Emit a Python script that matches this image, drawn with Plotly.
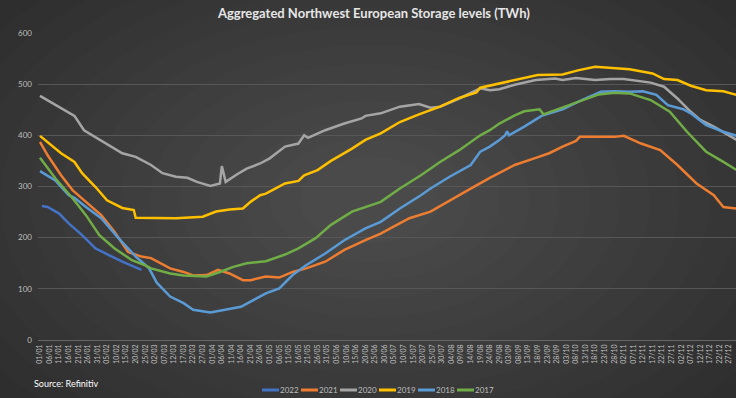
import pandas as pd
import plotly.graph_objects as go

# ---------------- data (day-of-year offsets from 01/01, values in TWh) ----------------
days_2022 = [1, 4, 10, 15, 22, 29, 36, 43, 53]
vals_2022 = [262, 260, 247, 228, 205, 179, 166, 153, 137]

days_2021 = [0, 4, 11, 17, 24, 32, 39, 46, 53, 58, 68, 75, 80, 87, 93, 99, 106, 110, 118, 125,
             132, 139, 149, 159, 170, 178, 183, 193, 204, 214, 225, 235, 248, 259, 266, 273,
             280, 282, 290, 300, 305, 314, 324, 333, 343, 352, 357, 364]
vals_2021 = [387, 361, 322, 293, 270, 244, 211, 172, 163, 160, 140, 133, 126, 127, 137, 130, 117, 117, 124, 122,
             133, 140, 153, 176, 195, 208, 218, 238, 251, 273, 296, 317, 342, 356, 365, 378,
             389, 397, 397, 397, 399, 384, 371, 342, 306, 283, 260, 257]

days_2020 = [0, 18, 23, 30, 43, 50, 55, 58, 64, 71, 77, 82, 89, 94, 95, 97, 103, 108, 115, 120,
             128, 135, 138, 140, 149, 159, 168, 170, 178, 188, 198, 204, 209, 219, 230, 235, 240,
             248, 259, 269, 273, 280, 290, 298, 305, 319, 326, 333, 340, 345, 352, 364]
vals_2020 = [477, 438, 410, 394, 365, 358, 348, 342, 326, 319, 317, 309, 301, 306, 340, 309, 324, 335, 345, 355,
             378, 384, 400, 395, 410, 423, 433, 438, 443, 456, 461, 454, 456, 472, 492, 488, 490,
             499, 508, 511, 508, 512, 508, 510, 510, 503, 495, 472, 446, 430, 417, 391]

days_2019 = [0, 4, 11, 18, 22, 29, 35, 43, 49, 50, 60, 71, 85, 92, 99, 106, 110, 115, 118, 128,
             135, 138, 145, 152, 163, 170, 178, 188, 198, 209, 219, 228, 230, 240, 248, 260, 273,
             281, 290, 300, 308, 320, 326, 333, 340, 348, 357, 364]
vals_2019 = [399, 387, 365, 348, 326, 299, 273, 258, 254, 239, 239, 238, 241, 251, 255, 257, 270, 283, 286, 306,
             311, 322, 332, 350, 374, 391, 404, 426, 441, 456, 473, 484, 493, 501, 508, 518, 519,
             527, 534, 531, 529, 521, 510, 508, 497, 488, 486, 479]

days_2018 = [0, 8, 15, 18, 24, 32, 41, 50, 54, 57, 61, 68, 75, 80, 89, 96, 105, 110, 118, 125,
             132, 139, 149, 159, 170, 178, 188, 199, 204, 214, 225, 230, 235, 240, 243, 244, 245,
             253, 262, 273, 283, 293, 300, 308, 315, 322, 328, 336, 340, 348, 357, 364]
vals_2018 = [330, 312, 283, 278, 260, 238, 199, 163, 150, 140, 112, 85, 72, 59, 54, 59, 65, 75, 91, 101,
             127, 146, 169, 195, 218, 231, 257, 283, 296, 319, 342, 368, 378, 391, 400, 408, 400,
             417, 438, 451, 469, 485, 486, 485, 486, 479, 459, 451, 443, 420, 407, 399]

days_2017 = [0, 8, 17, 24, 31, 39, 48, 55, 58, 68, 75, 87, 94, 101, 108, 115, 118, 128, 135, 144,
             152, 163, 170, 178, 188, 199, 209, 219, 230, 235, 240, 248, 253, 261, 263, 273, 281,
             292, 300, 308, 319, 329, 338, 348, 357, 364]
vals_2017 = [356, 316, 277, 244, 205, 179, 156, 146, 140, 130, 126, 124, 133, 143, 150, 153, 154, 167, 179, 199,
             225, 251, 260, 270, 296, 322, 348, 371, 400, 410, 423, 439, 447, 451, 441, 454, 465,
             480, 483, 482, 469, 446, 407, 368, 348, 332]

series_names = ["2022", "2021", "2020", "2019", "2018", "2017"]
series_days = [days_2022, days_2021, days_2020, days_2019, days_2018, days_2017]
series_vals = [vals_2022, vals_2021, vals_2020, vals_2019, vals_2018, vals_2017]
series_colors = ["#4472C4", "#ED7D31", "#A5A5A5", "#FFC000", "#5B9BD5", "#70AD47"]

y_ticks = [0, 100, 200, 300, 400, 500, 600]
title_text = "Aggregated Northwest European Storage levels (TWh)"
source_text = "Source: Refinitiv"

BASE = pd.Timestamp("2021-01-01")

# ---------------- figure ----------------
W, H = 736, 398
ML, MR, MT, MB = 38, 0, 33, 58
PW, PH = W - ML - MR, H - MT - MB


def px2paper_x(px):
    return (px - ML) / PW


def px2paper_y(py):
    return (H - MB - py) / PH


fig = go.Figure()
for name, d, v, c in zip(series_names, series_days, series_vals, series_colors):
    x = [BASE + pd.Timedelta(days=int(k)) for k in d]
    fig.add_trace(go.Scatter(x=x, y=v, name=name, mode="lines", showlegend=False,
                             line=dict(color=c, width=2.5), hoverinfo="skip"))

# soft radial background glow
shapes = []
cx, cy = 370, 200
n = 16
for i in range(n):
    rx = 520 - i * 30
    ry = rx * 0.62
    shapes.append(dict(type="circle", xref="paper", yref="paper", layer="below",
                       x0=px2paper_x(cx - rx), x1=px2paper_x(cx + rx),
                       y0=px2paper_y(cy + ry), y1=px2paper_y(cy - ry),
                       fillcolor="rgba(255,255,255,0.011)", line=dict(width=0)))

# compact legend (Excel style): short line sample + label
annotations = [dict(text=source_text, xref="paper", yref="paper",
                    x=px2paper_x(32), y=px2paper_y(383), xanchor="left", yanchor="middle",
                    showarrow=False, font=dict(size=9, color="#ffffff"))]
leg_x0, leg_step, leg_y = 262, 39, 390
for i, (name, c) in enumerate(zip(series_names, series_colors)):
    lx = leg_x0 + i * leg_step
    shapes.append(dict(type="line", xref="paper", yref="paper", layer="above",
                       x0=px2paper_x(lx), x1=px2paper_x(lx + 17),
                       y0=px2paper_y(leg_y), y1=px2paper_y(leg_y),
                       line=dict(color=c, width=3)))
    annotations.append(dict(text=name, xref="paper", yref="paper",
                            x=px2paper_x(lx + 17), y=px2paper_y(leg_y),
                            xanchor="left", yanchor="middle", showarrow=False, borderpad=0,
                            font=dict(size=8, color="#bfbfbf")))

fig.update_layout(
    width=W, height=H,
    margin=dict(l=ML, r=MR, t=MT, b=MB, autoexpand=False),
    paper_bgcolor="#2a2a2a",
    plot_bgcolor="rgba(0,0,0,0)",
    shapes=shapes,
    annotations=annotations,
    font=dict(family="Lato, Open Sans, sans-serif", color="#bfbfbf"),
    title=dict(text="<b>" + title_text + "</b>", x=0.508, xanchor="center",
               y=1 - 13 / H, yanchor="middle", yref="container",
               font=dict(size=13, color="#e6e6e6", family="Lato, sans-serif")),
    showlegend=False,
    xaxis=dict(type="date",
               range=[BASE - pd.Timedelta(hours=25), BASE + pd.Timedelta(days=363.6)],
               tick0=BASE, dtick=5 * 86400000, tickformat="%d/%m",
               tickangle=-90, tickfont=dict(size=7, color="#bfbfbf"),
               showgrid=False, zeroline=False, showline=False, ticks="",
               ticklabelstandoff=2, automargin=False),
    yaxis=dict(range=[0, 600], tickvals=y_ticks, tickfont=dict(size=8, color="#bfbfbf"),
               showgrid=True, gridcolor="#575757", gridwidth=1,
               zeroline=True, zerolinecolor="#666666", zerolinewidth=1,
               showline=False, ticks="", ticklabelstandoff=5, automargin=False),
)

fig.write_html("out.html", config={"displayModeBar": False},
               post_script="document.body.style.margin='0px';document.body.style.background='#2a2a2a';")
